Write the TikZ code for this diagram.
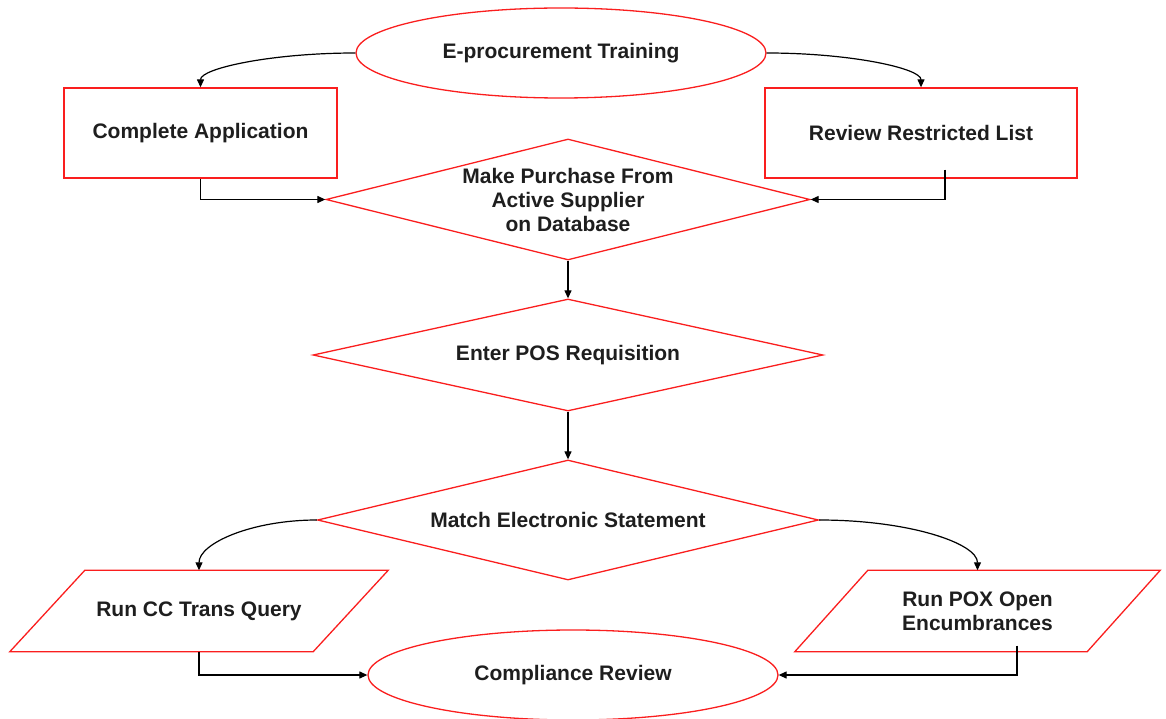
\documentclass[tikz,border=0pt]{standalone}
\usepackage{fontspec}
\setmainfont{Liberation Sans}
\usetikzlibrary{shapes.geometric,arrows.meta}
\definecolor{lred}{RGB}{250,30,30}
\definecolor{txt}{RGB}{30,30,30}
\begin{document}
\begin{tikzpicture}[x=1pt,y=-1pt,
  every node/.style={font=\fontsize{21}{24}\selectfont\bfseries, text=txt, align=center},
  redline/.style={draw=lred, line width=1.3pt},
  ell/.style={ellipse, redline, inner sep=0pt, minimum width=410pt, minimum height=90pt},
  procbox/.style={rectangle, redline, inner sep=0pt, minimum height=90pt},
  dia/.style={diamond, redline, aspect=4, inner sep=-6pt},
  iobox/.style={rectangle, draw=none, inner sep=0pt, minimum height=81pt},
  arr/.style={draw=black, line width=1.2pt, -{Triangle[length=8pt,width=7pt]}}
]
\useasboundingbox (0,0) rectangle (1166,719);
\node[ell] (train) at (561,53) {E-procurement Training};
\node[procbox, minimum width=273pt] (app) at (200.5,133) {Complete Application};
\node[procbox, minimum width=312pt] (rrl) at (921,133) {Review Restricted List};
\node[dia, minimum width=484pt, minimum height=121pt] (buy) at (568,199.5) {Make Purchase From\\Active Supplier\\on Database};
\node[dia, minimum width=510pt, minimum height=112pt] (pos) at (568,355) {Enter POS Requisition};
\node[dia, minimum width=501pt, minimum height=120pt] (match) at (568,520) {Match Electronic Statement};
\node[iobox, minimum width=378pt] (cc) at (199,611) {Run CC Trans Query};
\node[iobox, minimum width=365pt] (pox) at (977.5,611) {Run POX Open\\Encumbrances};
\node[ell] (comp) at (573,675) {Compliance Review};
\draw[redline] (cc.south west) -- ([xshift=75pt]cc.north west) -- (cc.north east) -- ([xshift=-75pt]cc.south east) -- cycle;
\draw[redline] (pox.south west) -- ([xshift=73pt]pox.north west) -- (pox.north east) -- ([xshift=-73pt]pox.south east) -- cycle;
\draw[arr] (train.west) .. controls ([xshift=-84pt]train.west) and ([yshift=19pt]app.north) .. (app.north);
\draw[arr] (train.east) .. controls ([xshift=84pt]train.east) and ([yshift=19pt]rrl.north) .. (rrl.north);
\draw[arr] (app.south) |- (buy.west);
\draw[arr] ([xshift=24pt,yshift=9pt]rrl.south) |- (buy.east);
\draw[arr] (buy.south) -- (pos.north);
\draw[arr] (pos.south) -- (match.north);
\draw[arr] (match.west) .. controls ([xshift=-65pt]match.west) and ([yshift=27pt]cc.north) .. (cc.north);
\draw[arr] (match.east) .. controls ([xshift=90pt]match.east) and ([yshift=27pt]pox.north) .. (pox.north);
\draw[arr] (cc.south) |- (comp.west);
\draw[arr] ([xshift=39.5pt,yshift=6pt]pox.south) |- (comp.east);
\end{tikzpicture}
\end{document}
